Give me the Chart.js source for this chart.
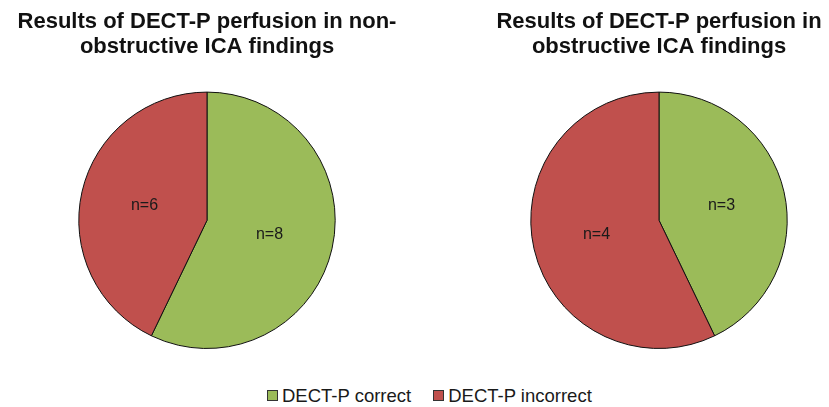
<!DOCTYPE html>
<html>
<head>
<meta charset="utf-8">
<script src="https://cdn.jsdelivr.net/npm/chart.js@4/dist/chart.umd.min.js"></script>
<style>
	body { margin: 0; background: #fff; font-family: "Liberation Sans", Arial, sans-serif; }
	#page { position: relative; width: 829px; height: 407px; overflow: hidden; }
	.box { position: absolute; }
	#legend { position: absolute; left: 267px; top: 385px; font-size: 18.5px; color: #1a1a1a; white-space: nowrap; }
	#legend span.item { margin-right: 22px; }
	#legend i { display: inline-block; width: 9px; height: 9px; border: 1px solid #333; margin-right: 4px; vertical-align: 1px; }
</style>
</head>
<body>
<div id="page">
	<div class="box" style="left:0;top:0;width:414px;height:352px;"><canvas id="left-canvas"></canvas></div>
	<div class="box" style="left:489px;top:0;width:340px;height:352px;"><canvas id="right-canvas"></canvas></div>
	<div id="legend"></div>
</div>
<script>
const categories = ["DECT-P correct", "DECT-P incorrect"];
const nonObstructive = [8, 6];
const obstructive = [3, 4];
const colors = ["#9bbb59", "#c0504d"];

const leftTitle = ["Results of DECT-P perfusion in non-", "obstructive ICA findings"];
const rightTitle = ["Results of DECT-P perfusion in", "obstructive ICA findings"];

// "n=x" text inside each slice
const sliceLabels = {
	id: "sliceLabels",
	afterDatasetsDraw(chart) {
		const ctx = chart.ctx;
		const meta = chart.getDatasetMeta(0);
		const values = chart.data.datasets[0].data;
		ctx.save();
		ctx.font = "16px 'Liberation Sans', Arial, sans-serif";
		ctx.fillStyle = "#1a1a1a";
		ctx.textAlign = "center";
		ctx.textBaseline = "middle";
		meta.data.forEach((arc, i) => {
			const p = arc.getProps(["x", "y", "startAngle", "endAngle", "outerRadius"], true);
			const mid = (p.startAngle + p.endAngle) / 2;
			const r = p.outerRadius * 0.5;
			ctx.fillText("n=" + values[i], p.x + Math.cos(mid) * r, p.y + Math.sin(mid) * r);
		});
		ctx.restore();
	},
};

function makePie(id, values, title) {
	return new Chart(document.getElementById(id).getContext("2d"), {
		type: "pie",
		data: {
			labels: categories,
			datasets: [
				{
					data: values,
					backgroundColor: colors,
					borderColor: "#111",
					borderWidth: 1,
				},
			],
		},
		options: {
			responsive: true,
			maintainAspectRatio: false,
			animation: false,
			layout: { padding: { bottom: 3 } },
			plugins: {
				legend: { display: false },
				tooltip: { enabled: false },
				title: {
					display: true,
					text: title,
					color: "#111",
					font: { family: "'Liberation Sans', Arial, sans-serif", size: 22, weight: "bold", lineHeight: 1.15 },
					padding: { top: 9, bottom: 32 },
				},
			},
		},
		plugins: [sliceLabels],
	});
}

makePie("left-canvas", nonObstructive, leftTitle);
makePie("right-canvas", obstructive, rightTitle);

const legend = document.getElementById("legend");
categories.forEach((c, i) => {
	const item = document.createElement("span");
	item.className = "item";
	item.innerHTML = '<i style="background:' + colors[i] + '"></i>' + c;
	legend.appendChild(item);
});
</script>
</body>
</html>
